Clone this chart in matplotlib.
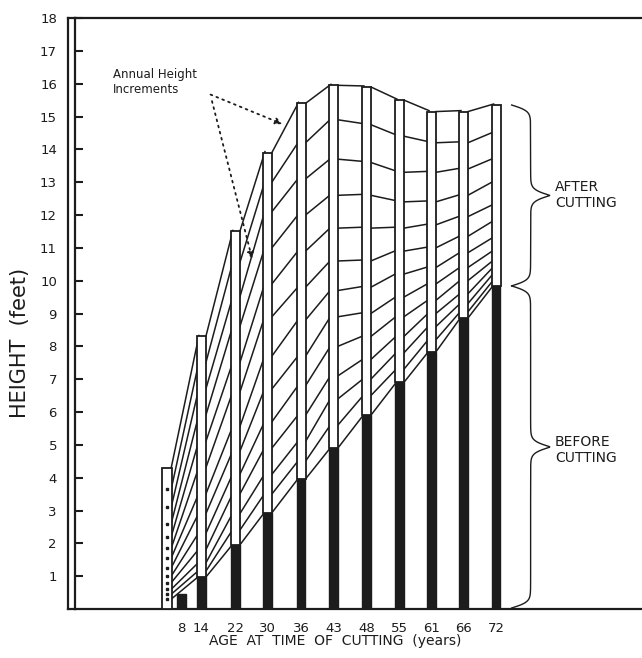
import numpy as np
import matplotlib.pyplot as plt

ages = ["8", "14", "22", "30", "36", "43", "48", "55", "61", "66", "72"]
before_cutting = [0.45, 0.97, 1.95, 2.93, 3.96, 4.9, 5.9, 6.9, 7.83, 8.86, 9.84]

# height reached in each year after cutting (year 0 .. year 12)
growth_8 = [0.3, 0.45, 0.6, 0.8, 1.0, 1.25, 1.55, 1.85, 2.2, 2.6, 3.1, 3.65, 4.3]
growth_14 = [0.97, 1.15, 1.4, 1.8, 2.3, 2.9, 3.5, 4.3, 5.1, 5.9, 6.7, 7.5, 8.3]
growth_22 = [1.95, 2.4, 2.9, 3.5, 4.1, 4.8, 5.55, 6.6, 7.5, 8.6, 9.5, 10.55, 11.5]
growth_30 = [2.93, 3.5, 4.1, 4.9, 5.7, 6.7, 7.7, 8.9, 9.9, 11.0, 12.1, 13.0, 13.9]
growth_36 = [3.96, 4.5, 5.1, 5.9, 6.8, 7.7, 8.8, 9.8, 10.9, 12.0, 13.1, 14.2, 15.4]
growth_43 = [4.9, 5.6, 6.4, 7.1, 8.0, 8.9, 9.7, 10.6, 11.6, 12.6, 13.7, 14.9, 15.95]
growth_48 = [5.9, 6.5, 7.0, 7.6, 8.3, 9.0, 9.8, 10.6, 11.6, 12.6, 13.6, 14.75, 15.9]
growth_55 = [6.9, 7.3, 7.8, 8.3, 8.9, 9.5, 10.2, 10.9, 11.6, 12.4, 13.3, 14.4, 15.5]
growth_61 = [7.83, 8.2, 8.6, 9.0, 9.4, 9.9, 10.4, 11.0, 11.7, 12.4, 13.3, 14.2, 15.15]
growth_66 = [8.86, 9.05, 9.3, 9.6, 10.0, 10.4, 10.85, 11.35, 11.95, 12.6, 13.4, 14.2, 15.15]
growth_72 = [9.84, 10.0, 10.2, 10.4, 10.6, 10.9, 11.3, 11.8, 12.3, 13.0, 13.7, 14.5, 15.35]

growth = [growth_8, growth_14, growth_22, growth_30, growth_36, growth_43,
          growth_48, growth_55, growth_61, growth_66, growth_72]

# layout (x slots of the bars)
slots = [0.4, 1.0, 2.03, 3.0, 4.02, 5.0, 6.0, 7.0, 7.97, 8.94, 9.93]
growth_slots = [-0.05] + slots[1:]
bw = 0.27
ink = "#1c1c1c"


def draw_brace(ax, x, y0, y1, depth):
    n = 300
    beta = (y1 - y0) * 32.8 / 3.0
    half = np.linspace(0, 0.5, n)
    c = 1 / (1 + np.exp(-beta * (half - half[0]))) + 1 / (1 + np.exp(-beta * (half - half[-1])))
    c = np.concatenate((c, c[::-1]))
    c = (c - c.min()) / (c.max() - c.min())
    ys = np.linspace(y0, y1, 2 * n)
    ax.plot(x + c * depth, ys, color=ink, lw=1.0, clip_on=False)


fig = plt.figure(figsize=(6.42, 6.58), dpi=100)
ax = fig.add_axes([75 / 642, 49 / 658, 567 / 642, 591 / 658])
ax.set_xlim(-2.83, 14.35)
ax.set_ylim(0, 18)

# annual increment lines between bars
for k in range(len(growth_8)):
    for j in range(len(growth) - 1):
        ax.plot([growth_slots[j] + bw / 2, growth_slots[j + 1] - bw / 2 + 0.06],
                [growth[j][k], growth[j + 1][k] + 0.03],
                color=ink, lw=1.1, zorder=2)

# black bars: height before cutting
ax.bar(slots, before_cutting, width=0.25, color=ink, edgecolor=ink, zorder=3)

# white bars: growth after cutting
for j, g in enumerate(growth):
    if j == 0:
        ax.bar(growth_slots[j], g[-1], bottom=0, width=0.3, facecolor="white",
               edgecolor=ink, lw=1.3, zorder=3)
        ax.plot([growth_slots[j]] * (len(g) - 1), g[:-1], ls="none", marker="s",
                ms=1.6, color=ink, zorder=4)
    else:
        ax.bar(growth_slots[j], g[-1] - g[0], bottom=g[0], width=bw, facecolor="white",
               edgecolor=ink, lw=1.3, zorder=3)

# frame
for side in ["left", "bottom", "top"]:
    ax.spines[side].set_linewidth(1.6)
    ax.spines[side].set_color(ink)
ax.spines["right"].set_visible(False)
ax.plot([-7 / 567, -7 / 567], [0, 1], transform=ax.transAxes, color=ink, lw=1.6, clip_on=False)
ax.plot([-7 / 567, 0], [1, 1], transform=ax.transAxes, color=ink, lw=1.6, clip_on=False)
ax.plot([-7 / 567, 0], [0, 0], transform=ax.transAxes, color=ink, lw=1.6, clip_on=False)

ax.set_yticks(range(1, 19))
ax.tick_params(axis="y", direction="in", length=6, width=1.5, pad=13, labelsize=9.5, colors=ink)
ax.set_xticks(slots, ages)
ax.tick_params(axis="x", length=0, pad=9, labelsize=9.5, colors=ink)

fig.text(335 / 642, 1 - 641 / 658, "AGE  AT  TIME  OF  CUTTING  (years)",
         ha="center", va="center", fontsize=10, color=ink)
fig.text(20 / 642, 1 - 343 / 658, "HEIGHT  (feet)", rotation=90,
         ha="center", va="center", fontsize=15, color=ink)

ax.text(-1.68, 16.05, "Annual Height\nIncrements", ha="left", va="center",
        fontsize=8.5, color=ink, linespacing=1.25)
ax.annotate("", xy=(3.53, 14.74), xytext=(1.2, 15.7),
            arrowprops=dict(arrowstyle="-|>", ls=(0, (1, 2.5)), color=ink, lw=1.3))
ax.annotate("", xy=(2.56, 10.58), xytext=(1.3, 15.55),
            arrowprops=dict(arrowstyle="-|>", ls=(0, (1, 2.5)), color=ink, lw=1.3))

draw_brace(ax, 10.4, growth_72[0], growth_72[-1], 1.15)
draw_brace(ax, 10.4, 0.03, growth_72[0], 1.15)
ax.text(11.71, 12.6, "AFTER\nCUTTING", ha="left", va="center", fontsize=10, color=ink)
ax.text(11.71, 4.84, "BEFORE\nCUTTING", ha="left", va="center", fontsize=10, color=ink)

fig.savefig("out.png", dpi=100, facecolor="white")
